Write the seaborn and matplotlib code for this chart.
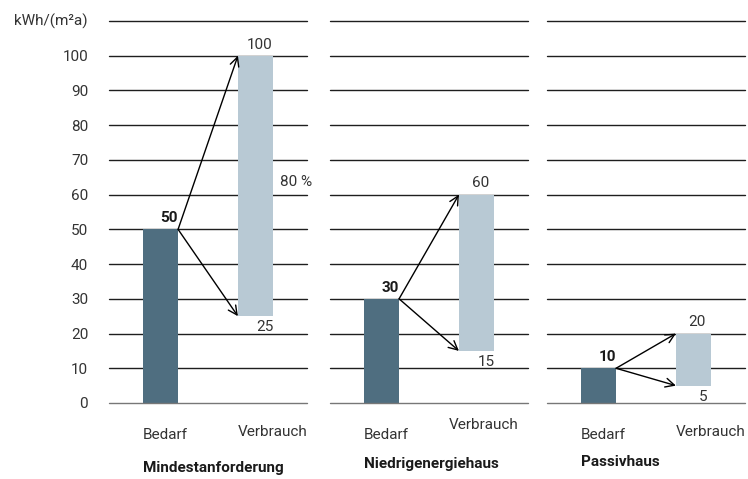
import matplotlib
matplotlib.use("Agg")
import matplotlib.pyplot as plt
import seaborn as sns
import numpy as np

# Daten: Heizwärmebedarf vs. Verbrauchsspanne
panels = ["Mindestanforderung", "Niedrigenergiehaus", "Passivhaus"]
bedarf = [50, 30, 10]
verbrauch_max = [100, 60, 20]
verbrauch_min = [25, 15, 5]
kategorien = ["Bedarf", "Verbrauch"]
yticks = list(range(0, 101, 10))
prozent_text = "80 %"

sns.set_theme(style="white")
plt.rcParams["font.family"] = ["Roboto", "DejaVu Sans"]

dunkel = "#4f6e80"
hell = "#b8c9d4"
text_c = "#333333"
fs = 11

fig = plt.figure(figsize=(7.48, 4.79), dpi=100)

# Panel-Positionen in Pixeln (links, Breite)
lefts = [109, 330, 547]
breite = 198
unten, hoehe = 403, 382
bw = 0.37

for i, name in enumerate(panels):
    ax = fig.add_axes([lefts[i] / 748, (479 - unten) / 479, breite / 748, hoehe / 479])
    sns.barplot(x=[0], y=[bedarf[i]], color=dunkel, width=bw, ax=ax, saturation=1,
                linewidth=0, edgecolor="none", zorder=3)
    ax.bar(1, verbrauch_max[i] - verbrauch_min[i], bottom=verbrauch_min[i],
           width=bw, color=hell, linewidth=0, zorder=3)
    ax.set_xlim(-0.542, 1.542)
    ax.set_ylim(0, 110)
    for y in range(0, 111, 10):
        ax.axhline(y, color="#777777" if y == 0 else "#1e1e1e", lw=1.0,
                   zorder=4 if y == 0 else 1, clip_on=False)
    for s in ax.spines.values():
        s.set_visible(False)
    ax.set_xticks([])
    ax.set_xlabel("")
    ax.set_ylabel("")
    if i == 0:
        ax.set_yticks(yticks)
        ax.set_yticklabels([str(t) for t in yticks], fontsize=fs, color=text_c)
        ax.tick_params(axis="y", length=0, pad=15)
        ax.text(-0.763, 110, "kWh/(m²a)", ha="right", va="center", fontsize=fs,
                color=text_c, clip_on=False)
    else:
        ax.set_yticks([])

    # Pfeile von Bedarf zu Verbrauch
    x0 = bw / 2
    x1 = 1 - bw / 2
    for ziel in (verbrauch_max[i], verbrauch_min[i]):
        ax.annotate("", xy=(x1, ziel), xytext=(x0, bedarf[i]),
                    arrowprops=dict(arrowstyle="->", color="black", lw=1,
                                    shrinkA=0, shrinkB=0, mutation_scale=16),
                    zorder=5)

    ax.text(x0, bedarf[i] + 1.2, str(bedarf[i]), ha="right", va="bottom",
            fontsize=fs, fontweight="bold", color="#1a1a1a")
    ax.text(1.04, verbrauch_max[i] + 1.2, str(verbrauch_max[i]), ha="center",
            va="bottom", fontsize=fs, color=text_c)
    ax.text(1.1, verbrauch_min[i] - 1.2, str(verbrauch_min[i]), ha="center",
            va="top", fontsize=fs, color=text_c)

    yv = -6.3 if i == 1 else -8.3
    xv = x1 - 0.11 if i == 1 else x1
    ax.text(-bw / 2, -9.2, kategorien[0], ha="left", va="center", fontsize=fs,
            color=text_c, clip_on=False)
    ax.text(xv, yv, kategorien[1], ha="left", va="center", fontsize=fs,
            color=text_c, clip_on=False)
    ax.text(-bw / 2, [-18.6, -17.6, -17.0][i], name, ha="left", va="center",
            fontsize=fs, fontweight="bold", color="#1a1a1a", clip_on=False)

    if i == 0:
        ax.text(1.43, 63.5, prozent_text, ha="center", va="center", fontsize=fs,
                color=text_c)

plt.savefig("out.png", dpi=100)
